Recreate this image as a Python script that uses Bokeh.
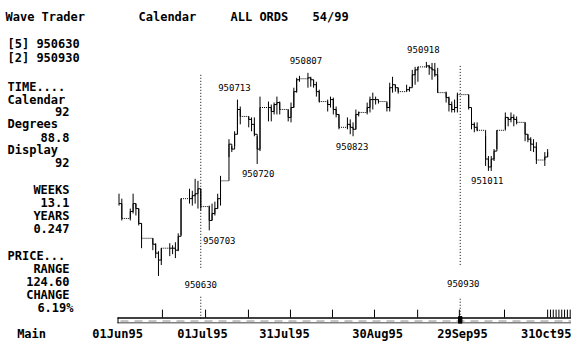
import pandas as pd
from bokeh.plotting import figure
from bokeh.models import Range1d, FixedTicker
from bokeh.embed import file_html
from bokeh.resources import INLINE
from bokeh.core.properties import value

# ---------------- data (ALL ORDS daily bars) ----------------
dates = [
    "1995-06-01", "1995-06-02", "1995-06-05", "1995-06-06", "1995-06-07", "1995-06-08", "1995-06-09",
    "1995-06-13", "1995-06-14", "1995-06-15", "1995-06-16", "1995-06-19", "1995-06-20", "1995-06-21",
    "1995-06-22", "1995-06-23", "1995-06-26", "1995-06-27", "1995-06-28", "1995-06-29", "1995-06-30",
    "1995-07-03", "1995-07-04", "1995-07-05", "1995-07-06", "1995-07-07", "1995-07-10", "1995-07-11",
    "1995-07-12", "1995-07-13", "1995-07-14", "1995-07-17", "1995-07-18", "1995-07-19", "1995-07-20",
    "1995-07-21", "1995-07-24", "1995-07-25", "1995-07-26", "1995-07-27", "1995-07-28", "1995-07-31",
    "1995-08-01", "1995-08-02", "1995-08-03", "1995-08-04", "1995-08-07", "1995-08-08", "1995-08-09",
    "1995-08-10", "1995-08-11", "1995-08-14", "1995-08-15", "1995-08-16", "1995-08-17", "1995-08-18",
    "1995-08-21", "1995-08-22", "1995-08-23", "1995-08-24", "1995-08-25", "1995-08-28", "1995-08-29",
    "1995-08-30", "1995-08-31", "1995-09-01", "1995-09-04", "1995-09-05", "1995-09-06", "1995-09-07",
    "1995-09-08", "1995-09-11", "1995-09-12", "1995-09-13", "1995-09-14", "1995-09-15", "1995-09-18",
    "1995-09-19", "1995-09-20", "1995-09-21", "1995-09-22", "1995-09-25", "1995-09-26", "1995-09-27",
    "1995-09-28", "1995-09-29", "1995-10-03", "1995-10-04", "1995-10-05", "1995-10-06", "1995-10-09",
    "1995-10-10", "1995-10-11", "1995-10-12", "1995-10-13", "1995-10-16", "1995-10-17", "1995-10-18",
    "1995-10-19", "1995-10-20", "1995-10-23", "1995-10-24", "1995-10-25", "1995-10-26", "1995-10-27",
    "1995-10-30", "1995-10-31",
]
high = [
    2027.5, 2022.0, 2011.0, 2027.5, 2016.5, 2011.0, 1994.5,
    1978.0, 1972.5, 1963.7, 1967.0, 1972.5, 1970.3, 1973.6,
    1983.5, 2022.0, 2033.0, 2030.8, 2044.0, 2041.8, 2033.0,
    2014.3, 2016.5, 2018.7, 2027.5, 2047.3, 2088.0, 2080.3,
    2096.8, 2132.0, 2124.3, 2113.3, 2112.2, 2112.2, 2091.3,
    2135.3, 2129.8, 2126.5, 2128.7, 2135.3, 2129.8, 2121.0,
    2128.7, 2145.2, 2156.2, 2158.4, 2161.7, 2157.3, 2154.0,
    2151.8, 2143.0, 2132.0, 2135.3, 2134.2, 2124.3, 2115.5,
    2112.2, 2110.0, 2106.7, 2121.0, 2118.8, 2128.7, 2135.3,
    2139.7, 2135.3, 2132.0, 2128.7, 2150.7, 2157.3, 2148.5,
    2145.2, 2148.5, 2146.3, 2165.0, 2168.3, 2168.3, 2173.8,
    2170.5, 2172.7, 2172.7, 2167.2, 2140.8, 2135.3, 2129.8,
    2132.0, 2139.7, 2137.5, 2121.0, 2106.7, 2106.7, 2091.3,
    2069.3, 2069.3, 2077.0, 2097.9, 2117.7, 2112.2, 2117.7,
    2115.5, 2113.3, 2106.7, 2093.5, 2090.2, 2088.0, 2084.7,
    2073.7, 2077.0,
]
low = [
    2014.3, 1997.8, 1997.8, 2005.5, 2003.3, 1992.3, 1967.0,
    1964.8, 1956.0, 1936.2, 1948.3, 1958.2, 1960.4, 1956.0,
    1963.7, 1981.3, 2016.5, 2014.3, 2016.5, 2011.0, 2008.8,
    1986.8, 1997.8, 2003.3, 2011.0, 2014.3, 2068.2, 2073.7,
    2080.3, 2093.5, 2104.5, 2101.2, 2096.8, 2091.3, 2060.5,
    2074.8, 2107.8, 2107.8, 2115.5, 2115.5, 2115.5, 2107.8,
    2106.7, 2123.2, 2139.7, 2151.8, 2145.2, 2146.3, 2145.2,
    2135.3, 2128.7, 2118.8, 2123.2, 2115.5, 2112.2, 2099.0,
    2099.0, 2093.5, 2091.3, 2099.0, 2113.3, 2115.5, 2117.7,
    2121.0, 2126.5, 2127.6, 2118.8, 2118.8, 2139.7, 2140.8,
    2138.6, 2140.8, 2140.8, 2146.3, 2148.5, 2151.8, 2167.2,
    2159.5, 2154.0, 2157.3, 2139.7, 2128.7, 2118.8, 2117.7,
    2117.7, 2117.7, 2121.0, 2099.0, 2095.7, 2096.8, 2058.3,
    2052.8, 2052.8, 2063.8, 2077.0, 2099.0, 2102.3, 2106.7,
    2102.3, 2104.5, 2085.8, 2084.7, 2074.8, 2073.7, 2060.5,
    2058.3, 2068.2,
]
close = [
    2016.5, 2000.0, 2007.7, 2016.5, 2011.0, 1994.5, 1978.0,
    1971.4, 1961.5, 1953.8, 1967.0, 1967.0, 1967.0, 1964.8,
    1980.2, 2022.0, 2022.0, 2025.3, 2027.5, 2033.0, 2013.2,
    1997.8, 2005.5, 2011.0, 2022.0, 2041.8, 2082.5, 2077.0,
    2093.5, 2121.0, 2113.3, 2110.0, 2104.5, 2093.5, 2077.0,
    2123.2, 2123.2, 2118.8, 2126.5, 2128.7, 2121.0, 2112.2,
    2123.2, 2140.8, 2154.0, 2155.1, 2156.2, 2154.0, 2148.5,
    2140.8, 2129.8, 2126.5, 2132.0, 2121.0, 2115.5, 2101.2,
    2104.5, 2101.2, 2099.0, 2115.5, 2117.7, 2123.2, 2132.0,
    2132.0, 2132.0, 2129.8, 2123.2, 2145.2, 2148.5, 2145.2,
    2140.8, 2143.0, 2145.2, 2159.5, 2165.0, 2168.3, 2169.4,
    2167.2, 2165.0, 2159.5, 2139.7, 2134.2, 2126.5, 2121.0,
    2123.2, 2137.5, 2123.2, 2104.5, 2101.2, 2097.9, 2066.0,
    2057.2, 2066.0, 2074.8, 2097.9, 2112.2, 2110.0, 2112.2,
    2110.0, 2106.7, 2093.5, 2088.0, 2082.5, 2079.2, 2064.9,
    2068.2, 2073.7,
]

# swing annotations
peak_dates = ["1995-07-13", "1995-08-07", "1995-09-18"]
trough_dates = ["1995-07-03", "1995-07-20", "1995-08-23", "1995-10-11"]
# analysis markers ([5] and [2])
marker_dates = ["1995-06-30", "1995-09-30"]
marker_tags = ["[5]", "[2]"]

# bottom time axis
tick_labels = ["Main", "01Jun95", "01Jul95", "31Jul95", "30Aug95", "29Sep95", "31Oct95"]
tick_label_days = [-31.0, -0.5, 29.6, 58.7, 91.7, 121.8, 151.6]
tick_mark_days = [15.4, 30.7, 45.9, 60.8, 75.7, 90.6, 105.9, 120.7, 136.7,
                  152, 153, 154, 155, 156, 157, 158, 159, 160, 161, 162]

# side panel statistics
stat_calendar = "92"
stat_degrees = "88.8"
stat_display = "92"
stat_weeks = "13.1"
stat_years = "0.247"
stat_range = "124.60"
stat_change = "6.19%"

# ---------------- layout helpers (picture pixel -> data) ----------------
PX0, PXD = 118.5, 2.82           # pixel x of 1 Jun 95, pixels per calendar day
P0, PS = 2242.0, 1.1             # price at pixel y = 0, price per pixel
W, H = 571, 343
FL, FT, FR, FB = 0, 0, W, 326    # frame edges


def dx(px):
    return (px - PX0) / PXD


def py(pyy):
    return P0 - PS * pyy


t0 = pd.Timestamp(dates[0])
day = [(pd.Timestamp(s) - t0).days for s in dates]
idx = {s: i for i, s in enumerate(dates)}

p = figure(width=W, height=H, output_backend="svg", toolbar_location=None,
           x_range=Range1d(dx(FL), dx(FR)), y_range=Range1d(py(FB), py(FT)),
           min_border_left=0, min_border_right=0, min_border_top=0, min_border_bottom=H - FB,
           y_axis_location=None, x_axis_location="below")
p.grid.visible = False
p.outline_line_color = None
p.background_fill_color = "white"
p.border_fill_color = "white"

MONO = value("DejaVu Sans Mono")

# ---------------- price bars ----------------
p.segment(x0=day, y0=low, x1=day, y1=high, line_color="black", line_width=1)

sx0, sx1, sy = [], [], []
gx0, gx1, gy = [], [], []
vx, vy0, vy1 = [], [], []
for i in range(len(day) - 1):
    if day[i + 1] - day[i] > 1:
        gx0.append(day[i]); gx1.append(day[i + 1]); gy.append(close[i])
    else:
        sx0.append(day[i]); sx1.append(day[i + 1]); sy.append(close[i])
    vx.append(day[i + 1]); vy0.append(close[i]); vy1.append(close[i + 1])
p.segment(x0=sx0, y0=sy, x1=sx1, y1=sy, line_color="black", line_width=1)
p.segment(x0=gx0, y0=gy, x1=gx1, y1=gy, line_color="black", line_width=1, line_dash="1 1")
p.segment(x0=vx, y0=vy0, x1=vx, y1=vy1, line_color="black", line_width=1)

# ---------------- swing labels ----------------
lab_font = "9px"
pk_x = [day[idx[s]] for s in peak_dates]
pk_y = [high[idx[s]] for s in peak_dates]
pk_t = [pd.Timestamp(s).strftime("%y%m%d") for s in peak_dates]
pk_dx = [-3, -2, -3]
for x, y, t, o in zip(pk_x, pk_y, pk_t, pk_dx):
    p.text(x=[x], y=[y], text=[t], x_offset=o, y_offset=-12, text_align="center",
           text_baseline="middle", text_font=MONO, text_font_size=lab_font, text_color="black")
tr_x = [day[idx[s]] for s in trough_dates]
tr_y = [low[idx[s]] for s in trough_dates]
tr_t = [pd.Timestamp(s).strftime("%y%m%d") for s in trough_dates]
tr_dx = [10, 1, -1, -4]
for x, y, t, o in zip(tr_x, tr_y, tr_t, tr_dx):
    p.text(x=[x], y=[y], text=[t], x_offset=o, y_offset=10, text_align="center",
           text_baseline="middle", text_font=MONO, text_font_size=lab_font, text_color="black")

# ---------------- markers ----------------
mk_day = [(pd.Timestamp(s) - t0).days for s in marker_dates]
mk_t = [pd.Timestamp(s).strftime("%y%m%d") for s in marker_dates]
mk_top = [75, 66]
mk_gap_top = [270, 268]
mk_gap_bot = [299, 301]
mk_lab_y = [287, 286]
mk_lab_dx = [0, 3]
for d, t, a, b, c, ly, o in zip(mk_day, mk_t, mk_top, mk_gap_top, mk_gap_bot, mk_lab_y, mk_lab_dx):
    p.segment(x0=[d, d], y0=[py(a), py(c)], x1=[d, d], y1=[py(b), py(321)],
              line_color="black", line_width=1, line_dash="1 2")
    p.text(x=[d], y=[py(ly)], text=[t], x_offset=o, text_align="center", text_baseline="middle",
           text_font=MONO, text_font_size=lab_font, text_color="black")

# ---------------- time strip ----------------
SL = 117
p.segment(x0=[dx(SL)], y0=[py(320.5)], x1=[dx(FR)], y1=[py(320.5)], line_color="black", line_width=1.5)
p.segment(x0=[dx(SL)], y0=[py(325.5)], x1=[dx(FR)], y1=[py(325.5)], line_color="black", line_width=1)
p.segment(x0=[dx(SL + 0.5)], y0=[py(320)], x1=[dx(SL + 0.5)], y1=[py(326)], line_color="black", line_width=1)
p.segment(x0=[dx(SL + 3)], y0=[py(323.5)], x1=[dx(FR)], y1=[py(323.5)], line_color="#8a8a8a",
          line_width=1, line_dash="8 6")
p.segment(x0=tick_mark_days, y0=[py(312)] * len(tick_mark_days), x1=tick_mark_days,
          y1=[py(320)] * len(tick_mark_days), line_color="black", line_width=1)
p.quad(left=[mk_day[1] - 0.6], right=[mk_day[1] + 0.6], bottom=[py(326)], top=[py(319)],
       fill_color="black", line_color="black")

ax = p.xaxis[0]
ax.ticker = FixedTicker(ticks=tick_label_days, minor_ticks=[])
ax.major_label_overrides = {d: t for d, t in zip(tick_label_days, tick_labels)}
ax.axis_line_color = None
ax.major_tick_in = 0
ax.major_tick_out = 0
ax.minor_tick_in = 0
ax.minor_tick_out = 0
ax.major_label_standoff = 3
ax.major_label_text_font = "DejaVu Sans Mono"
ax.major_label_text_font_style = "bold"
ax.major_label_text_font_size = "12px"
ax.major_label_text_color = "black"

# ---------------- header & side panel texts ----------------
hdr_font = "12px"
left_rows = [
    ("Wave Trader", 5, 17), ("Calendar", 138, 17), ("ALL ORDS", 230, 17), ("54/99", 312, 17),
    (marker_tags[0] + " " + mk_t[0], 7, 44), (marker_tags[1] + " " + mk_t[1], 7, 58.5),
    ("TIME....", 7, 87), ("Calendar", 7, 100), ("Degrees", 7, 125), ("Display", 7, 151),
    ("PRICE...", 7, 258),
]
for t, x, y in left_rows:
    p.text(x=[dx(x)], y=[py(y)], text=[t], text_align="left", text_baseline="middle",
           text_font=MONO, text_font_style="bold", text_font_size=hdr_font, text_color="black")
right_rows = [
    (stat_calendar, 69, 112), (stat_degrees, 69, 138), (stat_display, 69, 164),
    ("WEEKS", 69, 191), (stat_weeks, 69, 204), ("YEARS", 69, 217), (stat_years, 69, 230),
    ("RANGE", 69, 271), (stat_range, 69, 284), ("CHANGE", 69, 297), (stat_change, 73, 310),
]
for t, x, y in right_rows:
    p.text(x=[dx(x)], y=[py(y)], text=[t], text_align="right", text_baseline="middle",
           text_font=MONO, text_font_style="bold", text_font_size=hdr_font, text_color="black")

open("out.html", "w").write(file_html(p, INLINE))
